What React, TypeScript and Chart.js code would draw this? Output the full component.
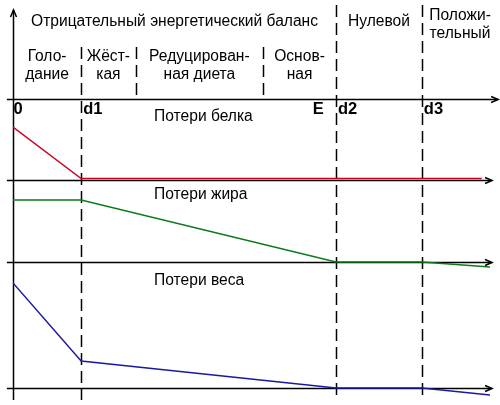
import React, { useEffect, useRef } from "react";
import { Chart, registerables } from "chart.js";

Chart.register(...registerables);

// Time marks on the horizontal axis (arbitrary time units)
const markNames = ["0", "d1", "E", "d2", "d3"];
const markX = [0, 10, 43.7, 47.4, 60];
const endX = 70;
// Boundaries between diet types inside the negative-balance phase
const dietBounds = [18, 36.7];

// Loss curves (arbitrary units)
const proteinX = [0, 10, 68.8];
const proteinLoss = [5.3, 0.15, 0.15];
const fatX = [0, 10, 47.4, 60, 70];
const fatLoss = [6.2, 6.2, 0, 0, -0.5];
const weightX = [0, 10, 47.4, 60, 70];
const weightLoss = [10.5, 2.7, 0, 0, -0.7];

// Texts
const balanceTitle = "Отрицательный энергетический баланс";
const phaseLabels: string[][] = [
  ["Голо-", "дание"],
  ["Жёст-", "кая"],
  ["Редуцирован-", "ная диета"],
  ["Основ-", "ная"],
];
const zeroLabel = "Нулевой";
const positiveLabel = ["Положи-", "тельный"];
const panelTitles = ["Потери белка", "Потери жира", "Потери веса"];

const FONT = "15.6px 'Liberation Sans', Arial, sans-serif";
const BOLD = "bold 16.5px 'Liberation Sans', Arial, sans-serif";

function arrowRight(ctx: CanvasRenderingContext2D, x: number, y: number) {
  ctx.beginPath();
  ctx.moveTo(x - 7, y - 3);
  ctx.lineTo(x, y);
  ctx.lineTo(x - 7, y + 3);
  ctx.stroke();
}
function arrowUp(ctx: CanvasRenderingContext2D, x: number, y: number) {
  ctx.beginPath();
  ctx.moveTo(x - 3, y + 7);
  ctx.lineTo(x, y);
  ctx.lineTo(x + 3, y + 7);
  ctx.stroke();
}

const overlay = {
  id: "overlay",
  beforeDatasetsDraw(chart: any) {
    const ctx: CanvasRenderingContext2D = chart.ctx;
    const xs = chart.scales.x;
    const yT = chart.scales.yT;
    ctx.save();
    ctx.strokeStyle = "#000";
    ctx.lineWidth = 1.5;
    // horizontal axes
    const axes: [any, number][] = [
      [yT, 71.2],
      [chart.scales.yP, 70.3],
      [chart.scales.yF, 70.3],
      [chart.scales.yW, 70.3],
    ];
    const xStart = xs.getPixelForValue(-0.9);
    for (const [sc, xe] of axes) {
      const py = Math.round(sc.getPixelForValue(0)) + 0.5;
      const pe = xs.getPixelForValue(xe);
      ctx.beginPath();
      ctx.moveTo(xStart, py);
      ctx.lineTo(pe, py);
      ctx.stroke();
      arrowRight(ctx, pe, py);
    }
    // vertical axis
    const px0 = Math.round(xs.getPixelForValue(0)) + 0.5;
    const yTop = yT.getPixelForValue(8.9);
    const yBottom = yT.getPixelForValue(-30.1);
    ctx.beginPath();
    ctx.moveTo(px0, yTop);
    ctx.lineTo(px0, yBottom);
    ctx.stroke();
    arrowUp(ctx, px0, yTop);
    // dashed verticals
    ctx.setLineDash([12, 6]);
    const dashed: [number, number, number][] = [
      [markX[1], 5.2, -30.1],
      [dietBounds[0], 5.2, 0],
      [dietBounds[1], 5.2, 0],
      [markX[3], 9.4, -30.1],
      [markX[4], 9.4, -30.1],
    ];
    for (const [xv, a, b] of dashed) {
      const px = Math.round(xs.getPixelForValue(xv)) + 0.5;
      ctx.beginPath();
      ctx.moveTo(px, yT.getPixelForValue(a));
      ctx.lineTo(px, yT.getPixelForValue(b));
      ctx.stroke();
    }
    ctx.restore();
  },
  afterDatasetsDraw(chart: any) {
    const ctx: CanvasRenderingContext2D = chart.ctx;
    const xs = chart.scales.x;
    const yT = chart.scales.yT;
    ctx.save();
    ctx.fillStyle = "#000";
    ctx.textBaseline = "middle";
    ctx.font = FONT;
    ctx.textAlign = "center";
    const cx = (a: number, b: number) =>
      (xs.getPixelForValue(a) + xs.getPixelForValue(b)) / 2;
    ctx.fillText(balanceTitle, cx(markX[0], markX[3]), yT.getPixelForValue(7.7));
    ctx.fillText(zeroLabel, cx(markX[3], markX[4]), yT.getPixelForValue(7.7));
    ctx.fillText(positiveLabel[0], cx(markX[4], 71.2), yT.getPixelForValue(8.3));
    ctx.fillText(positiveLabel[1], cx(markX[4], 71.2), yT.getPixelForValue(6.5));
    const cols = [markX[0], markX[1], dietBounds[0], dietBounds[1], markX[3]];
    phaseLabels.forEach((lines, i) => {
      const c = cx(cols[i], cols[i + 1]);
      ctx.fillText(lines[0], c, yT.getPixelForValue(4.2));
      ctx.fillText(lines[1], c, yT.getPixelForValue(2.4));
    });
    // panel titles
    ctx.textAlign = "left";
    const tx = xs.getPixelForValue(20.7);
    ctx.fillText(panelTitles[0], tx, chart.scales.yP.getPixelForValue(6.3));
    ctx.fillText(panelTitles[1], tx, chart.scales.yF.getPixelForValue(6.7));
    ctx.fillText(panelTitles[2], tx, chart.scales.yW.getPixelForValue(10.7));
    // mark labels
    ctx.font = BOLD;
    markNames.forEach((n, i) => {
      ctx.fillText(n, xs.getPixelForValue(markX[i]) + (i === 0 ? 0.5 : 2), yT.getPixelForValue(-1.0));
    });
    ctx.restore();
  },
};

export default function App() {
  const ref = useRef<HTMLCanvasElement>(null);
  useEffect(() => {
    if (!ref.current) return;
    const pts = (xv: number[], yv: number[]) => xv.map((x, i) => ({ x, y: yv[i] }));
    const chart = new Chart(ref.current, {
      type: "line",
      data: {
        datasets: [
          {
            label: panelTitles[0],
            data: pts(proteinX, proteinLoss),
            yAxisID: "yP",
            borderColor: "#cc0022",
            borderWidth: 1.4,
            pointRadius: 0,
            tension: 0,
          },
          {
            label: panelTitles[1],
            data: pts(fatX, fatLoss),
            yAxisID: "yF",
            borderColor: "#0a7a1a",
            borderWidth: 1.4,
            pointRadius: 0,
            tension: 0,
          },
          {
            label: panelTitles[2],
            data: pts(weightX, weightLoss),
            yAxisID: "yW",
            borderColor: "#1a1aa0",
            borderWidth: 1.4,
            pointRadius: 0,
            tension: 0,
          },
        ],
      },
      options: {
        animation: false,
        responsive: false,
        events: [],
        layout: { padding: { left: 13, right: 10, top: 10, bottom: 3 } },
        plugins: { legend: { display: false }, tooltip: { enabled: false }, title: { display: false } },
        scales: {
          x: { type: "linear", min: 0, max: endX, display: false },
          yT: { type: "linear", min: -30.3, max: 8.9, display: false },
          yP: { type: "linear", min: -22.2, max: 17, display: false },
          yF: { type: "linear", min: -14, max: 25.2, display: false },
          yW: { type: "linear", min: -1.4, max: 37.8, display: false },
        },
      },
      plugins: [overlay],
    });
    return () => chart.destroy();
  }, []);
  return (
    <div style={{ position: "absolute", left: 0, top: 0, width: 500, height: 405, background: "#fff" }}>
      <canvas ref={ref} width={500} height={405} />
    </div>
  );
}
